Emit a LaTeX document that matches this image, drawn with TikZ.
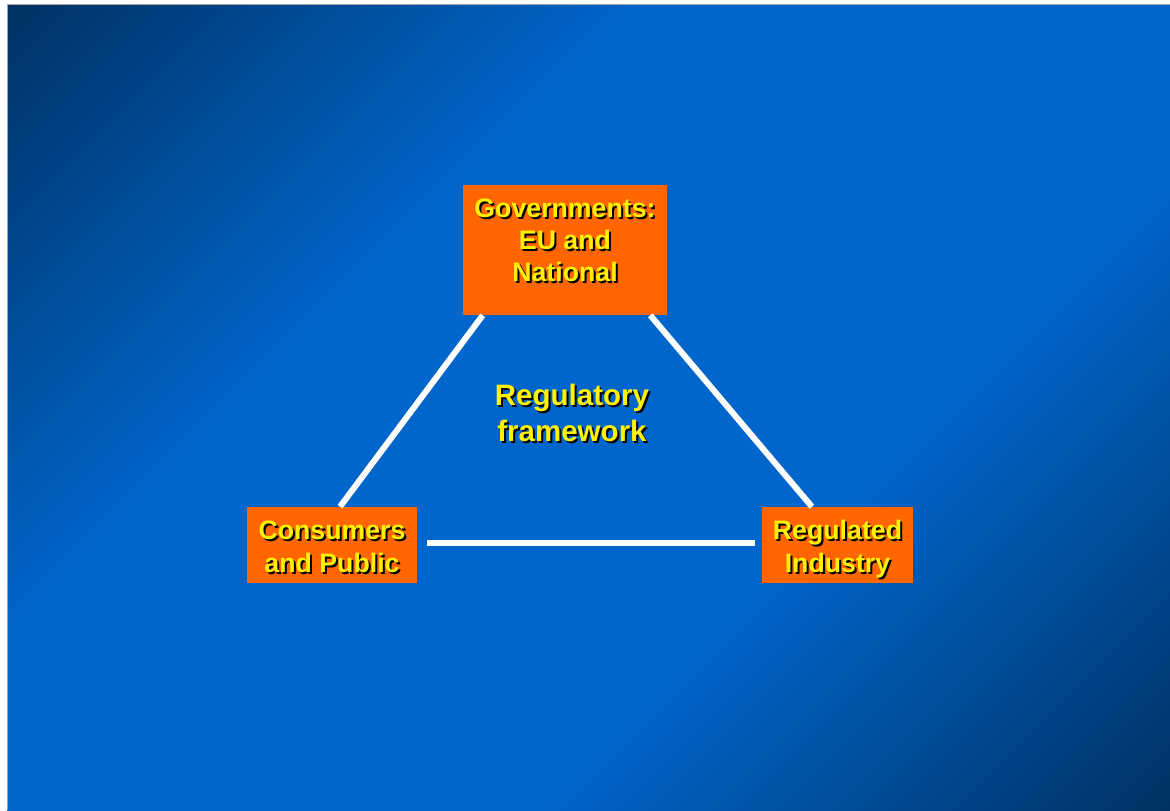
\documentclass[tikz,border=0pt]{standalone}
\usepackage{fontspec}
\setmainfont{Liberation Sans}
\usepackage{tikz}
\usetikzlibrary{positioning}
\definecolor{slidedark}{RGB}{0,50,100}
\definecolor{slideblue}{RGB}{0,102,204}
\definecolor{boxorange}{RGB}{255,102,0}
\pgfdeclarehorizontalshading{slideshade}{100bp}{color(0bp)=(slidedark); color(14.6bp)=(slidedark); color(37.6bp)=(slideblue); color(62.4bp)=(slideblue); color(85.4bp)=(slidedark); color(100bp)=(slidedark)}
% yellow text with a black drop shadow
\newcommand{\shadowed}[1]{\leavevmode\rlap{\kern0.05cm\raisebox{-0.05cm}{\color{black}\begin{tabular}{@{}c@{}}#1\end{tabular}}}\begin{tabular}{@{}c@{}}#1\end{tabular}}

\begin{document}
\begin{tikzpicture}[x=0.025cm, y=-0.025cm,
actor/.style={fill=boxorange, inner sep=0pt, text=yellow,
    font=\bfseries\fontsize{19}{23}\selectfont, minimum height=1.9cm},
link/.style={draw=white, line width=0.15cm}]
\useasboundingbox (0,0) rectangle (1170,810);
\fill[white] (0,0) rectangle (1170,810);
\shade[shading=slideshade, shading angle=-45] (7,4) rectangle (1170,810);
\draw[gray!70, line width=0.6pt] (7,810) -- (7,4) -- (1170,4);

\node[actor, minimum width=5.1cm, minimum height=3.25cm] (gov) at (565,250)
  {\raisebox{0.15cm}[\height][\depth]{\shadowed{Governments:\\EU and\\National}}};
\node[actor, minimum width=4.25cm] (cons) at (332,545)
  {\raisebox{-0.14cm}[\height][\depth]{\shadowed{Consumers\\and Public}}};
\node[actor, minimum width=3.775cm] (ind) at (837.5,545)
  {\raisebox{-0.14cm}[\height][\depth]{\shadowed{Regulated\\Industry}}};
\node[text=yellow, font=\bfseries\fontsize{21}{25.5}\selectfont] (frame) at (572,417)
  {\shadowed{Regulatory\\framework}};

\draw[link] ([xshift=0.5cm]gov.south west) -- ([xshift=0.2cm]cons.north);
\draw[link] ([xshift=-0.425cm]gov.south east) -- ([xshift=-0.64cm]ind.north);
\draw[link] ([xshift=0.25cm, yshift=0.05cm]cons.east) -- ([xshift=-0.175cm, yshift=0.05cm]ind.west);
\end{tikzpicture}
\end{document}
